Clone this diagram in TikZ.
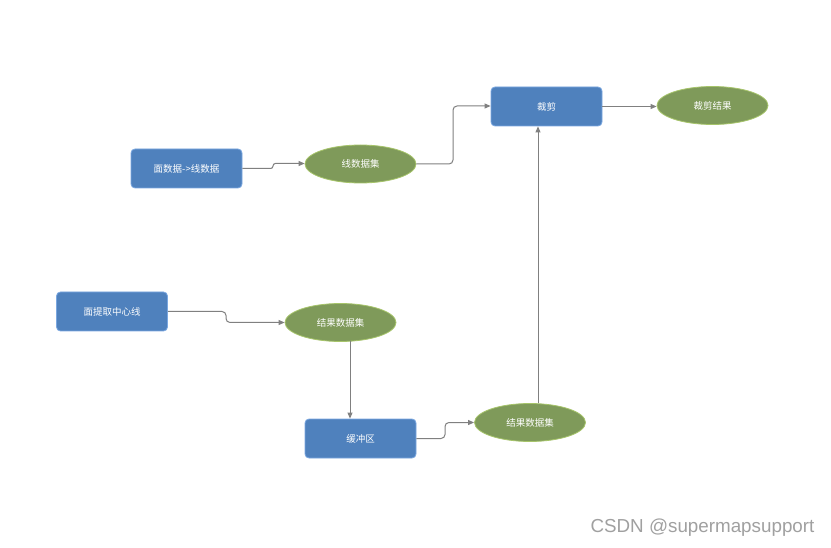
\documentclass[tikz,border=0pt]{standalone}
\usepackage{fontspec}
\setmainfont{Noto Sans CJK SC}
\newfontfamily\wmfont{Liberation Sans}
\usetikzlibrary{arrows.meta,shapes.geometric}
\definecolor{boxblue}{HTML}{4F81BD}
\definecolor{boxedge}{HTML}{7AA7E0}
\definecolor{ellgreen}{HTML}{7F9A5A}
\definecolor{elledge}{HTML}{A6C46A}
\definecolor{linegray}{HTML}{808080}
\definecolor{wmgray}{HTML}{A0A0A0}
\tikzset{
  procbox/.style={draw=boxedge, fill=boxblue, rounded corners=4pt, minimum width=111pt, minimum height=39pt, inner sep=0pt, text=white, font=\fontsize{9.5}{11}\selectfont, line width=0.8pt},
  dataell/.style={draw=elledge, fill=ellgreen, ellipse, minimum width=111pt, minimum height=38pt, inner sep=0pt, text=white, font=\fontsize{9.5}{11}\selectfont, line width=0.8pt},
  conn/.style={draw=linegray, line width=1pt, rounded corners=4pt, -{Triangle[length=6pt,width=5pt]}},
}
\begin{document}
\begin{tikzpicture}[x=1pt,y=-1pt]
\useasboundingbox (0,0) rectangle (831,548);
\fill[white] (0,0) rectangle (831,548);
\node[procbox] (b1) at (186.5,168.5) {面数据->线数据};
\node[dataell] (e1) at (360.5,164) {线数据集};
\node[procbox] (clip) at (546.5,106.5) {裁剪};
\node[dataell] (res) at (712.5,105.5) {裁剪结果};
\node[procbox] (b2) at (112,311.5) {面提取中心线};
\node[dataell] (e2) at (340.5,322.5) {结果数据集};
\node[procbox] (buf) at (360.5,438.5) {缓冲区};
\node[dataell] (e3) at (530,422.5) {结果数据集};
\node[text=wmgray, font=\wmfont\fontsize{18.8}{21}\selectfont] (wm) at (702.5,528) {CSDN @supermapsupport};

\coordinate (p1) at (273,168.5);
\coordinate (p2) at (273,163.5);
\draw[conn, rounded corners=2.4pt] (b1.east) -- (p1) -- (p2) -- (e1.west |- p2);
\coordinate (q1) at (453,164);
\coordinate (q2) at (453,106);
\draw[conn] (e1.east) -- (q1) -- (q2) -- (clip.west |- q2);
\draw[conn] (clip.east) -- (res.west |- clip.east);
\coordinate (r1) at (226,311.5);
\coordinate (r2) at (226,322.5);
\draw[conn] (b2.east) -- (r1) -- (r2) -- (e2.west);
\coordinate (s1) at (350,341);
\draw[conn] (s1) -- (s1 |- buf.north);
\coordinate (t1) at (445,438.5);
\coordinate (t2) at (445,422.5);
\draw[conn] (buf.east) -- (t1) -- (t2) -- (e3.west);
\coordinate (u1) at (538,403.5);
\draw[conn] (u1) -- (u1 |- clip.south);
\end{tikzpicture}
\end{document}
